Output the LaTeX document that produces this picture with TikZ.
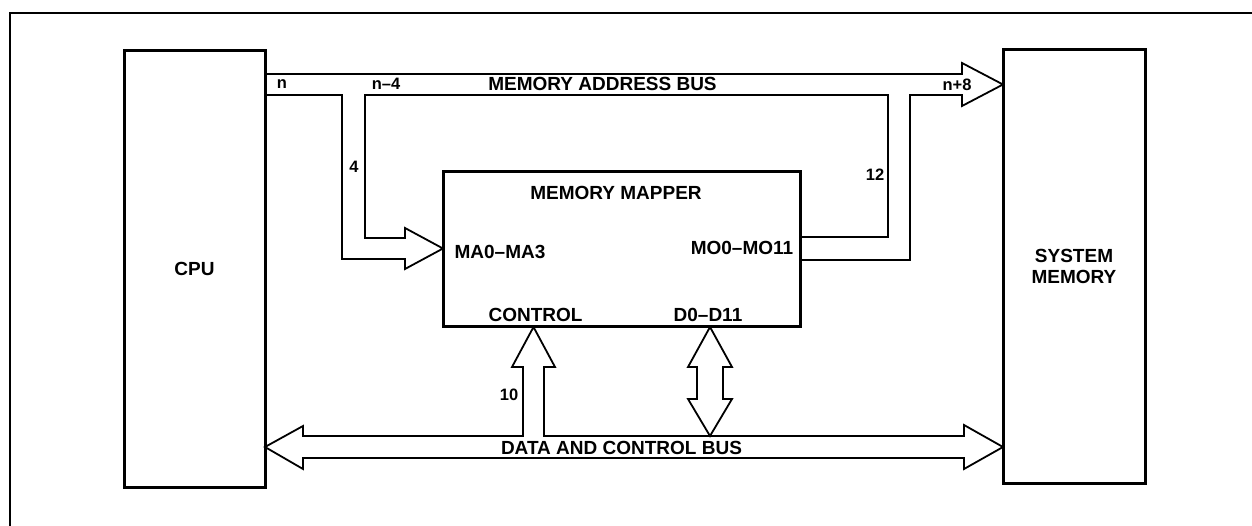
\documentclass[tikz,border=0pt]{standalone}
\usepackage{fontspec}
\setmainfont{Liberation Sans}
\begin{document}
\begin{tikzpicture}[x=1pt, y=-1pt,
  block/.style={draw, line width=3pt, outer sep=0pt, inner sep=0pt, font=\fontsize{19}{21}\selectfont\bfseries, align=center},
  bus/.style={draw, line width=1.8pt, line join=miter},
  lbl/.style={font=\fontsize{19}{21}\selectfont\bfseries, inner sep=0pt},
  num/.style={font=\fontsize{16.5}{18}\selectfont\bfseries, inner sep=0pt}
]
  \useasboundingbox (0,0) rectangle (1252,526);
  \draw[line width=2pt] (10,526) -- (10,13) -- (1252,13);

  \node[block, minimum width=141pt, minimum height=436pt] (cpu) at (194.5,269) {CPU};
  \node[block, minimum width=142pt, minimum height=433pt] (sysmem) at (1074,266.5) {SYSTEM\\MEMORY};
  \node[block, minimum width=357pt, minimum height=155pt] (mapper) at (621.5,249.5) {};

  % memory address bus
  \draw[bus] (cpu.east |- 0,74) -- (962,74) -- (962,63) -- (sysmem.west |- 0,84.5) -- (962,106) -- (962,95)
    -- (910,95) -- (910,260) -- (mapper.east |- 0,260);
  \draw[bus] (mapper.east |- 0,237) -- (888,237) -- (888,95) -- (365,95) -- (365,238) -- (405,238) -- (405,228)
    -- (mapper.west |- 0,248.5) -- (405,269) -- (405,259) -- (342,259) -- (342,95) -- (cpu.east |- 0,95);

  % data and control bus
  \draw[bus] (cpu.east |- 0,447) -- (303,426) -- (303,436) -- (523,436) -- (523,367) -- (512,367)
    -- (mapper.south -| 533.5,0) -- (555,367) -- (544,367) -- (544,436) -- (964,436) -- (964,425)
    -- (sysmem.west |- 0,447) -- (964,469) -- (964,458) -- (303,458) -- (303,469) -- cycle;
  \draw[bus] (mapper.south -| 710,0) -- (732,367) -- (723,367) -- (723,399) -- (732,399) -- (710,436)
    -- (688,399) -- (697,399) -- (697,367) -- (688,367) -- cycle;

  \node[num] (nA) at (282,84) {n};
  \node[num] (nB) at (386,84) {n--4};
  \node[lbl] (abus) at (602.5,84) {MEMORY ADDRESS BUS};
  \node[num] (nC) at (957,85) {n+8};
  \node[num] (w4) at (354,167) {4};
  \node[num] (w12) at (875,175) {12};
  \node[lbl] (mmap) at (616,193) {MEMORY MAPPER};
  \node[lbl] (ma) at (500,252) {MA0--MA3};
  \node[lbl] (mo) at (742,248) {MO0--MO11};
  \node[lbl] (ctl) at (535.5,315) {CONTROL};
  \node[lbl] (dd) at (708,315) {D0--D11};
  \node[num] (w10) at (509,395) {10};
  \node[lbl] (dbus) at (621.5,448) {DATA AND CONTROL BUS};
\end{tikzpicture}
\end{document}
